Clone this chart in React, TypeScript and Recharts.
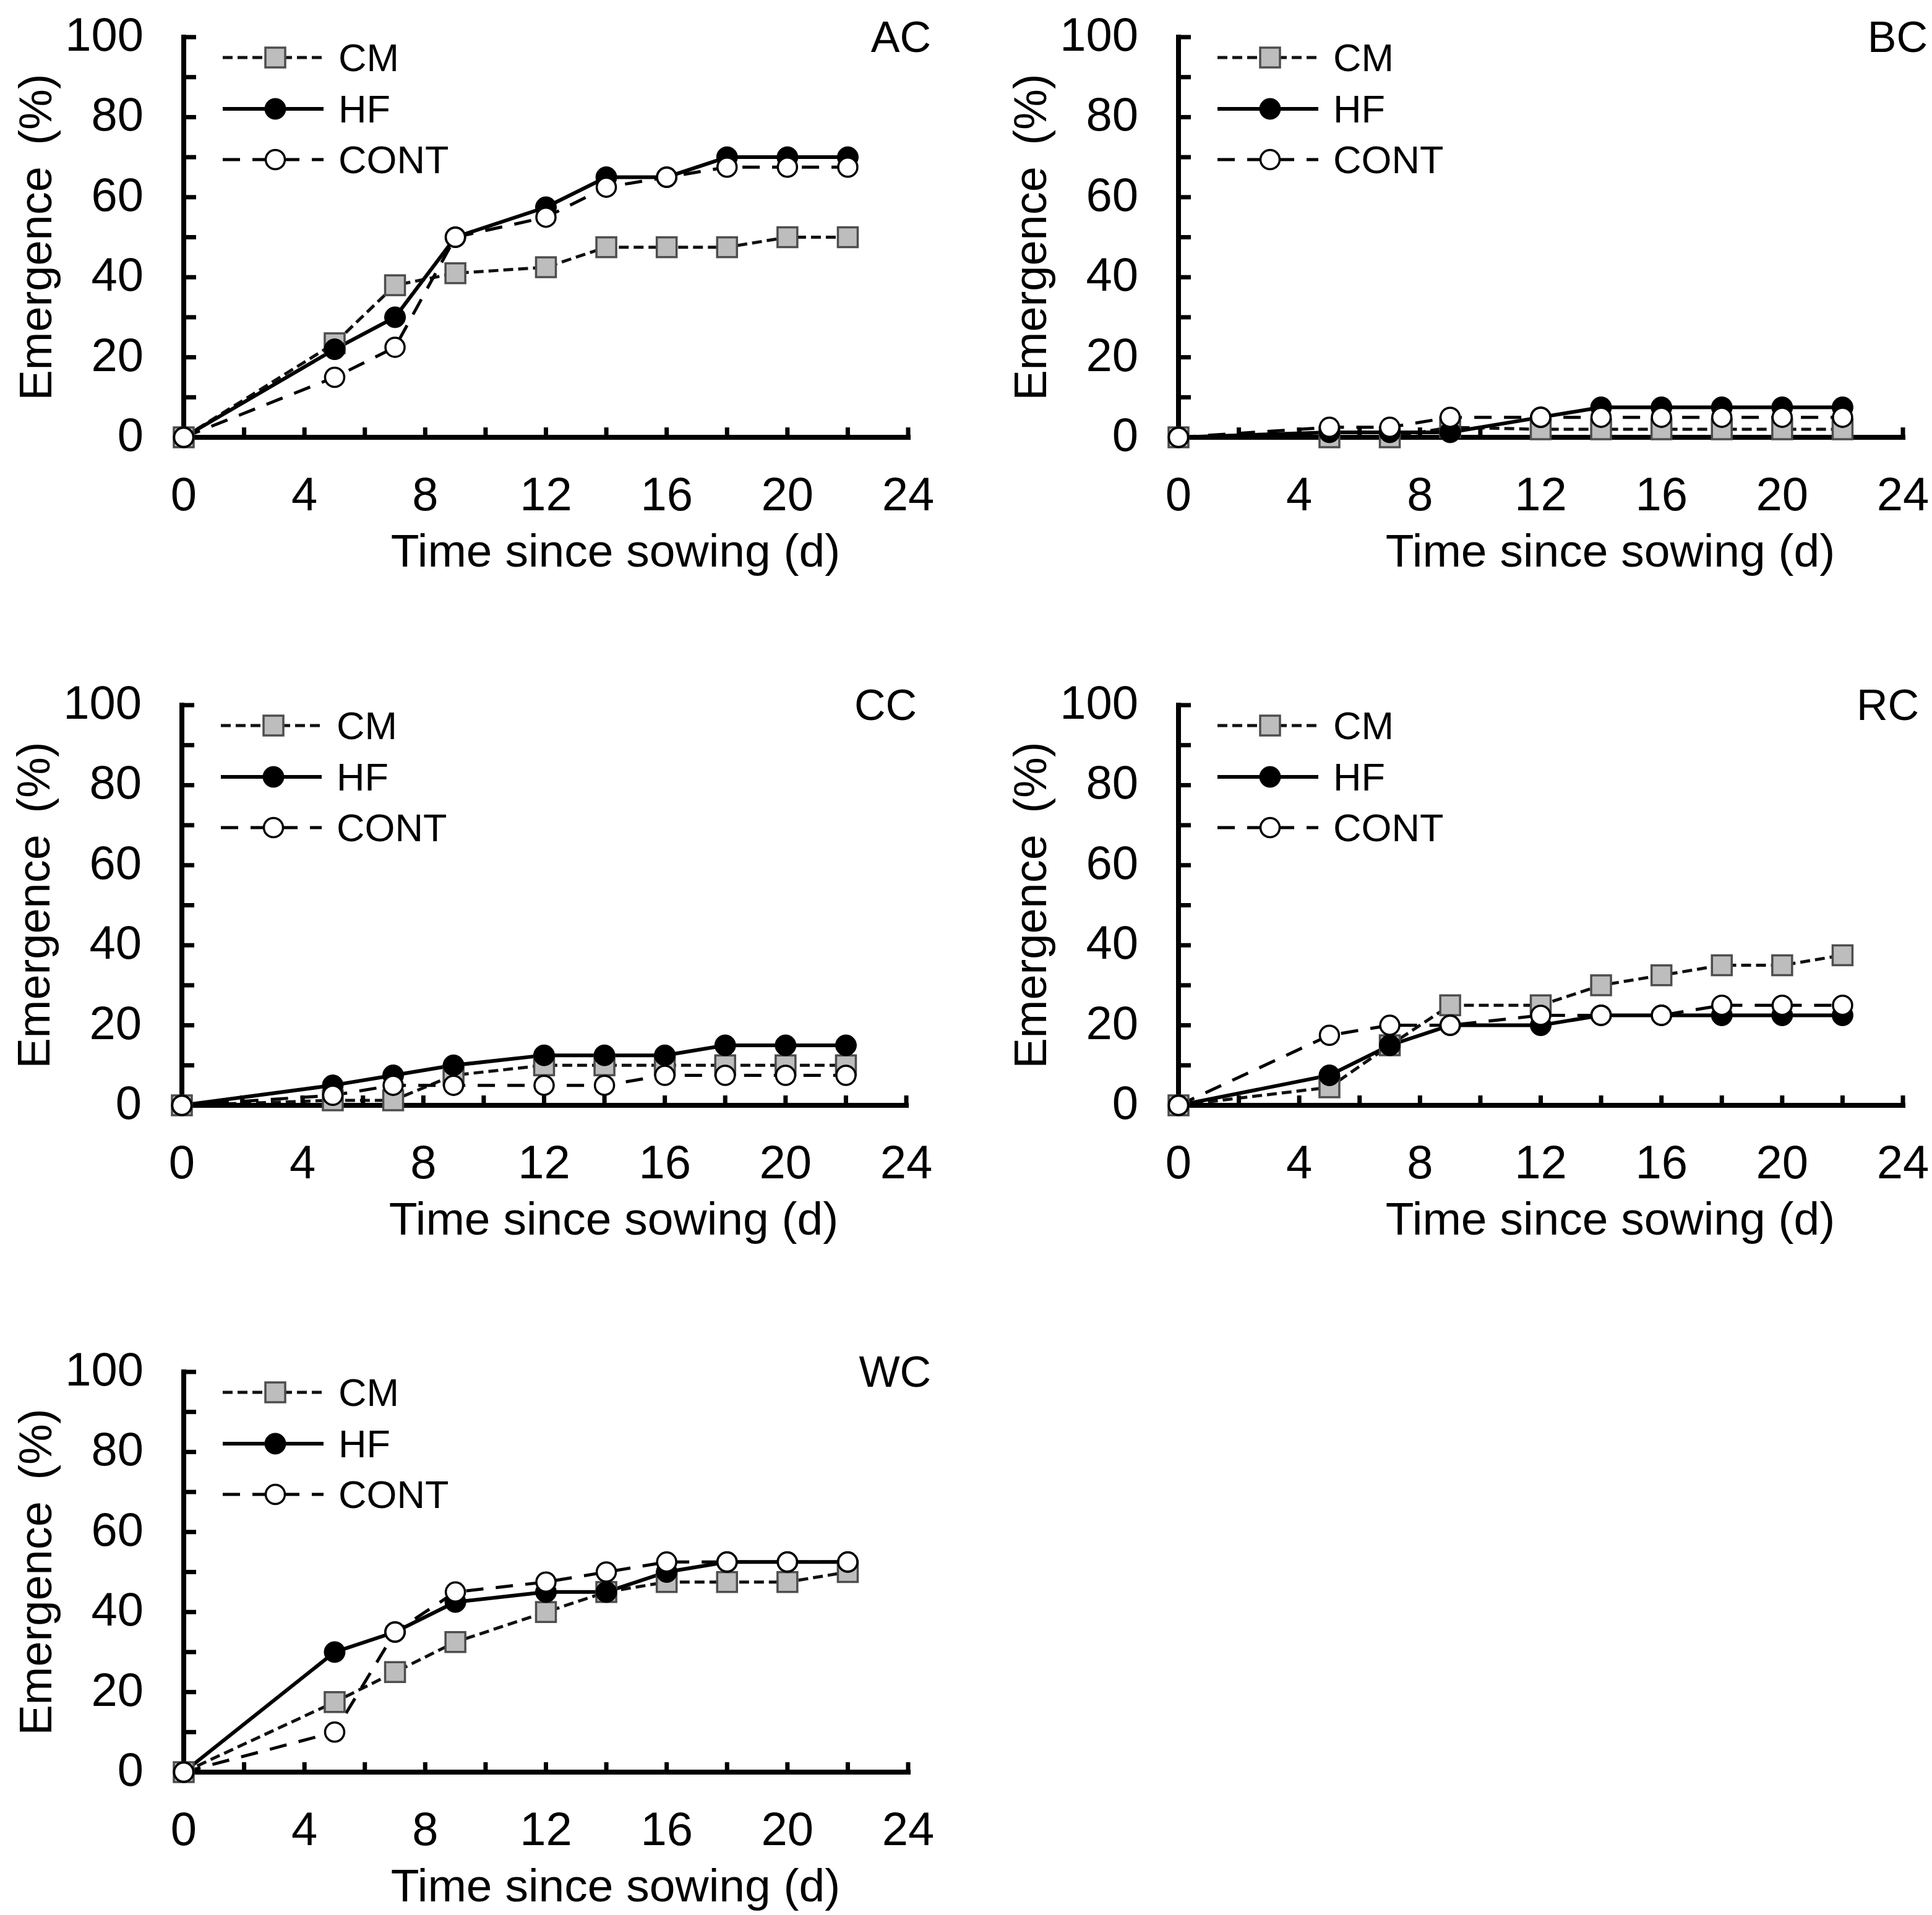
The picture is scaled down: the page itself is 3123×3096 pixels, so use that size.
import React from 'react';
import { LineChart, Line, XAxis, YAxis, Legend, Label } from 'recharts';

// ---------------- data ----------------
const days = [0, 5, 7, 9, 12, 14, 16, 18, 20, 22];
const xTicks = [0, 2, 4, 6, 8, 10, 12, 14, 16, 18, 20, 22, 24];
const yTicks = [0, 10, 20, 30, 40, 50, 60, 70, 80, 90, 100];
const seriesNames = ['CM', 'HF', 'CONT'];
const panelCodes = ['AC', 'BC', 'CC', 'RC', 'WC'];
const xTitle = 'Time since sowing (d)';
const yTitle = 'Emergence';
const yTitleUnit = '(%)';

const acCM = [0, 23.5, 38, 41, 42.5, 47.5, 47.5, 47.5, 50, 50];
const acHF = [0, 22, 30, 50, 57.5, 65, 65, 70, 70, 70];
const acCONT = [0, 15, 22.5, 50, 55, 62.5, 65, 67.5, 67.5, 67.5];

const bcCM = [0, 0, 0, 2.5, 2, 2, 2, 2, 2, 2];
const bcHF = [0, 1.25, 1.25, 1.25, 5, 7.5, 7.5, 7.5, 7.5, 7.5];
const bcCONT = [0, 2.5, 2.5, 5, 5, 5, 5, 5, 5, 5];

const ccCM = [0, 1.25, 1.25, 7.5, 10, 10, 10, 10, 10, 10];
const ccHF = [0, 5, 7.5, 10, 12.5, 12.5, 12.5, 15, 15, 15];
const ccCONT = [0, 2.5, 5, 5, 5, 5, 7.5, 7.5, 7.5, 7.5];

const rcCM = [0, 4.5, 15, 25, 25, 30, 32.5, 35, 35, 37.5];
const rcHF = [0, 7.5, 15, 20, 20, 22.5, 22.5, 22.5, 22.5, 22.5];
const rcCONT = [0, 17.5, 20, 20, 22.5, 22.5, 22.5, 25, 25, 25];

const wcCM = [0, 17.5, 25, 32.5, 40, 45, 47.5, 47.5, 47.5, 50];
const wcHF = [0, 30, 35, 42.5, 45, 45, 50, 52.5, 52.5, 52.5];
const wcCONT = [0, 10, 35, 45, 47.5, 50, 52.5, 52.5, 52.5, 52.5];

const panelSeries: Record<string, number[][]> = {
  AC: [acCM, acHF, acCONT],
  BC: [bcCM, bcHF, bcCONT],
  CC: [ccCM, ccHF, ccCONT],
  RC: [rcCM, rcHF, rcCONT],
  WC: [wcCM, wcHF, wcCONT],
};

const buildRows = (code: string) =>
  days.map((d, i) => {
    const row: Record<string, number> = { day: d };
    seriesNames.forEach((n, k) => {
      row[n] = panelSeries[code][k][i];
    });
    return row;
  });

// ---------------- layout / style ----------------
const FONT = "'Liberation Sans', Arial, Helvetica, sans-serif";
const AXIS_W = 297;
const PLOT_W = 1171;
const PLOT_H = 647;
const TOP = 60;
const CH = 935;
const X_AXIS_H = CH - TOP - PLOT_H;

const layout = [
  { code: 'AC', left: 0, top: 0, width: 1560, codeDx: 37 },
  { code: 'BC', left: 1608, top: 0, width: 1515, codeDx: 40 },
  { code: 'CC', left: -3, top: 1080, width: 1563, codeDx: 17 },
  { code: 'RC', left: 1608, top: 1080, width: 1515, codeDx: 26 },
  { code: 'WC', left: 0, top: 2158, width: 1560, codeDx: 37 },
];

const SquareDot = (props: any) => {
  const { cx, cy, index } = props;
  if (cx == null || cy == null) return <g key={`s${index}`} />;
  return (
    <rect key={`s${index}`} x={cx - 16} y={cy - 16} width={32} height={32} fill="#bdbdbd" stroke="#4d4d4d" strokeWidth={3.5} />
  );
};
const FilledDot = (props: any) => {
  const { cx, cy, index } = props;
  if (cx == null || cy == null) return <g key={`f${index}`} />;
  return <circle key={`f${index}`} cx={cx} cy={cy} r={17} fill="#000" stroke="#000" strokeWidth={1} />;
};
const OpenDot = (props: any) => {
  const { cx, cy, index } = props;
  if (cx == null || cy == null) return <g key={`o${index}`} />;
  return <circle key={`o${index}`} cx={cx} cy={cy} r={15.5} fill="#fff" stroke="#000" strokeWidth={3.5} />;
};

const seriesStyle: Record<string, any> = {
  CM: { stroke: '#111', strokeWidth: 5, dash: '16 8', dot: SquareDot },
  HF: { stroke: '#000', strokeWidth: 6, dash: undefined, dot: FilledDot },
  CONT: { stroke: '#000', strokeWidth: 5, dash: '28 20', dot: OpenDot },
};

const XTick = (props: any) => {
  const { x, y, payload } = props;
  if (payload.value % 4 !== 0) return <g />;
  return (
    <text x={x} y={y + 55} textAnchor="middle" fontSize={76} fontFamily={FONT} fill="#000">
      {payload.value}
    </text>
  );
};
const YTick = (props: any) => {
  const { x, y, payload } = props;
  if (payload.value % 20 !== 0) return <g />;
  return (
    <text x={x} y={y + 22} textAnchor="end" fontSize={76} fontFamily={FONT} fill="#000">
      {payload.value}
    </text>
  );
};

const LegendBox = () => {
  const rows = [33, 116, 198];
  return (
    <svg width={440} height={250} style={{ display: 'block', overflow: 'visible' }}>
      {seriesNames.map((n, i) => {
        const st = seriesStyle[n];
        const y = rows[i];
        const Dot = st.dot;
        return (
          <g key={n}>
            <line x1={23} x2={186} y1={y} y2={y} stroke={st.stroke} strokeWidth={st.strokeWidth} strokeDasharray={st.dash} />
            {Dot({ cx: 108, cy: y, index: i })}
            <text x={210} y={y + 22} fontSize={63} fontFamily={FONT} fill="#000">
              {n}
            </text>
          </g>
        );
      })}
    </svg>
  );
};

const Panel = ({ code, width, codeDx }: { code: string; width: number; codeDx: number }) => {
  const data = buildRows(code);
  return (
    <LineChart
      width={width}
      height={CH}
      data={data}
      margin={{ top: TOP, right: width - AXIS_W - PLOT_W, bottom: 0, left: 0 }}
    >
      <XAxis
        dataKey="day"
        type="number"
        domain={[0, 24]}
        ticks={xTicks}
        interval={0}
        height={X_AXIS_H}
        tickSize={-16}
        tickMargin={79}
        tick={XTick}
        tickLine={{ stroke: '#000', strokeWidth: 7 }}
        axisLine={{ stroke: '#000', strokeWidth: 8, strokeLinecap: 'square' }}
        label={{
          content: (p: any) => {
            const vb = p.viewBox || { x: AXIS_W, y: TOP + PLOT_H };
            return (
              <text x={vb.x + 698} y={vb.y + 209} textAnchor="middle" fontSize={75} fontFamily={FONT} fill="#000">
                {xTitle}
              </text>
            );
          },
        }}
      />
      <YAxis
        type="number"
        domain={[0, 100]}
        ticks={yTicks}
        interval={0}
        width={AXIS_W}
        tickSize={-20}
        tickMargin={85}
        tick={YTick}
        tickLine={{ stroke: '#000', strokeWidth: 7 }}
        axisLine={{ stroke: '#000', strokeWidth: 8, strokeLinecap: 'square' }}
        label={{
          content: (p: any) => {
            const vb = p.viewBox || { x: 0, y: TOP, width: AXIS_W, height: PLOT_H };
            const cx = vb.x + vb.width - 214;
            const cy = vb.y + vb.height / 2;
            return (
              <text
                x={cx}
                y={cy}
                transform={`rotate(-90, ${cx}, ${cy})`}
                textAnchor="middle"
                fontSize={74}
                fontFamily={FONT}
                fill="#000"
              >
                {yTitle + ' '}
                <tspan dx={14}>{yTitleUnit}</tspan>
              </text>
            );
          },
        }}
      >
        <Label
          content={(p: any) => {
            const vb = p.viewBox || { x: 0, y: TOP, width: AXIS_W, height: PLOT_H };
            return (
              <text
                x={vb.x + vb.width + PLOT_W + codeDx}
                y={vb.y + 24}
                textAnchor="end"
                fontSize={70}
                fontFamily={FONT}
                fill="#000"
              >
                {code}
              </text>
            );
          }}
        />
      </YAxis>
      <Legend
        layout="vertical"
        align="center"
        verticalAlign="middle"
        content={() => <LegendBox />}
        wrapperStyle={{ position: 'absolute', left: AXIS_W + 40, top: TOP, width: 440, height: 250 }}
      />
      {seriesNames.map((n) => {
        const st = seriesStyle[n];
        return (
          <Line
            key={n}
            dataKey={n}
            name={n}
            type="linear"
            stroke={st.stroke}
            strokeWidth={st.strokeWidth}
            strokeDasharray={st.dash}
            dot={st.dot}
            activeDot={false}
            isAnimationActive={false}
          />
        );
      })}
    </LineChart>
  );
};

export default function App() {
  return (
    <div style={{ position: 'absolute', left: 0, top: 0, width: 3123, height: 3096, background: '#fff', overflow: 'hidden' }}>
      {layout.map((l) => (
        <div key={l.code} style={{ position: 'absolute', left: l.left, top: l.top, width: l.width, height: CH }}>
          <Panel code={l.code} width={l.width} codeDx={l.codeDx} />
        </div>
      ))}
    </div>
  );
}
